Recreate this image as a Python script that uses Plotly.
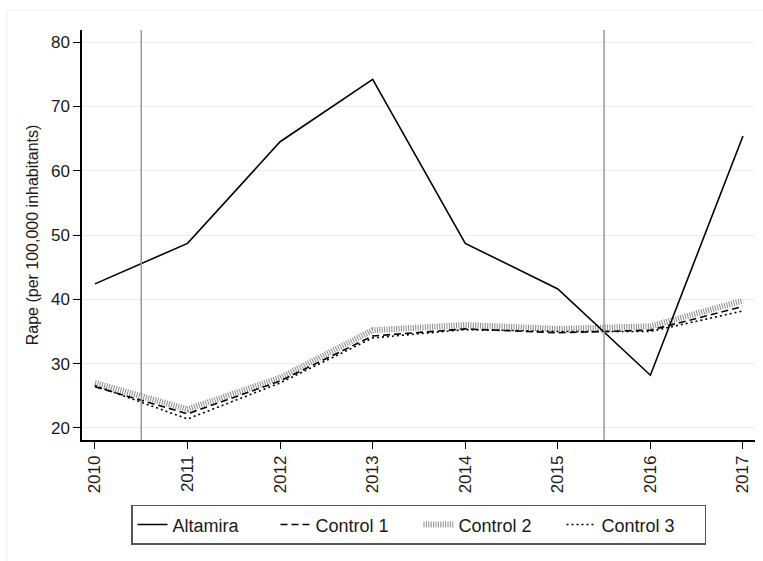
import plotly.graph_objects as go

years = [2010, 2011, 2012, 2013, 2014, 2015, 2016, 2017]
altamira = [42.4, 48.7, 64.5, 74.2, 48.7, 41.6, 28.2, 65.4]
control1 = [26.4, 22.2, 27.3, 34.3, 35.4, 34.8, 35.2, 38.9]
control2 = [27.0, 22.9, 27.8, 35.2, 36.0, 35.4, 35.8, 39.8]
control3 = [26.6, 21.4, 27.0, 34.0, 35.3, 35.0, 35.0, 38.2]
vlines = [2010.5, 2015.5]
yticks = [20, 30, 40, 50, 60, 70, 80]

FONT = "Liberation Sans, Arial, Helvetica, sans-serif"

fig = go.Figure()
fig.add_trace(go.Scatter(x=years, y=control2, mode="lines", name="Control 2",
                         line=dict(color="#8a8a8a", width=6, dash="1px,1.4px"),
                         legendrank=3))
fig.add_trace(go.Scatter(x=years, y=control1, mode="lines", name="Control 1",
                         line=dict(color="black", width=1.6, dash="7px,4px"),
                         legendrank=2))
fig.add_trace(go.Scatter(x=years, y=control3, mode="lines", name="Control 3",
                         line=dict(color="black", width=1.6, dash="2px,3px"),
                         legendrank=4))
fig.add_trace(go.Scatter(x=years, y=altamira, mode="lines", name="Altamira",
                         line=dict(color="black", width=1.6),
                         legendrank=1))

for v in vlines:
    fig.add_vline(x=v, line=dict(color="#9a9a9a", width=1.5), layer="above")

# faint outer frame
fig.add_shape(type="rect", xref="paper", yref="paper",
              x0=-75/673, x1=2, y0=-2, y1=1 + 20/410,
              line=dict(color="#eeeeee", width=1), fillcolor="rgba(0,0,0,0)",
              layer="below")

fig.update_layout(
    width=763, height=561,
    margin=dict(l=82, r=8, t=30, b=121),
    paper_bgcolor="white", plot_bgcolor="white",
    font=dict(family=FONT, color="#1a1a1a"),
    showlegend=True,
    legend=dict(orientation="h", x=0.5, xanchor="center", y=-0.158, yanchor="top",
                bordercolor="#555555", borderwidth=1.5,
                font=dict(size=18, family=FONT, color="#1a1a1a"),
                entrywidth=98, entrywidthmode="pixels", itemwidth=30,
                traceorder="normal"),
    xaxis=dict(range=[2009.86, 2017.13], tickmode="array", tickvals=years,
               ticktext=[str(y) for y in years], tickangle=-90,
               ticks="outside", ticklen=7, tickwidth=1.3, tickcolor="black",
               showline=True, linecolor="black", linewidth=1.5,
               showgrid=False, zeroline=False,
               tickfont=dict(size=17, family=FONT, color="#1a1a1a")),
    yaxis=dict(range=[18.13, 81.87], tickmode="array", tickvals=yticks,
               ticks="outside", ticklen=7, tickwidth=1.3, tickcolor="black",
               showline=True, linecolor="black", linewidth=1.5,
               showgrid=True, gridcolor="#e8f0f1", gridwidth=1.2, zeroline=False,
               tickfont=dict(size=17, family=FONT, color="#1a1a1a")),
)
fig.update_yaxes(title=dict(text="Rape (per 100,000 inhabitants)", standoff=8,
                            font=dict(size=16, family=FONT, color="#1a1a1a")))

fig.write_html("out.html")
